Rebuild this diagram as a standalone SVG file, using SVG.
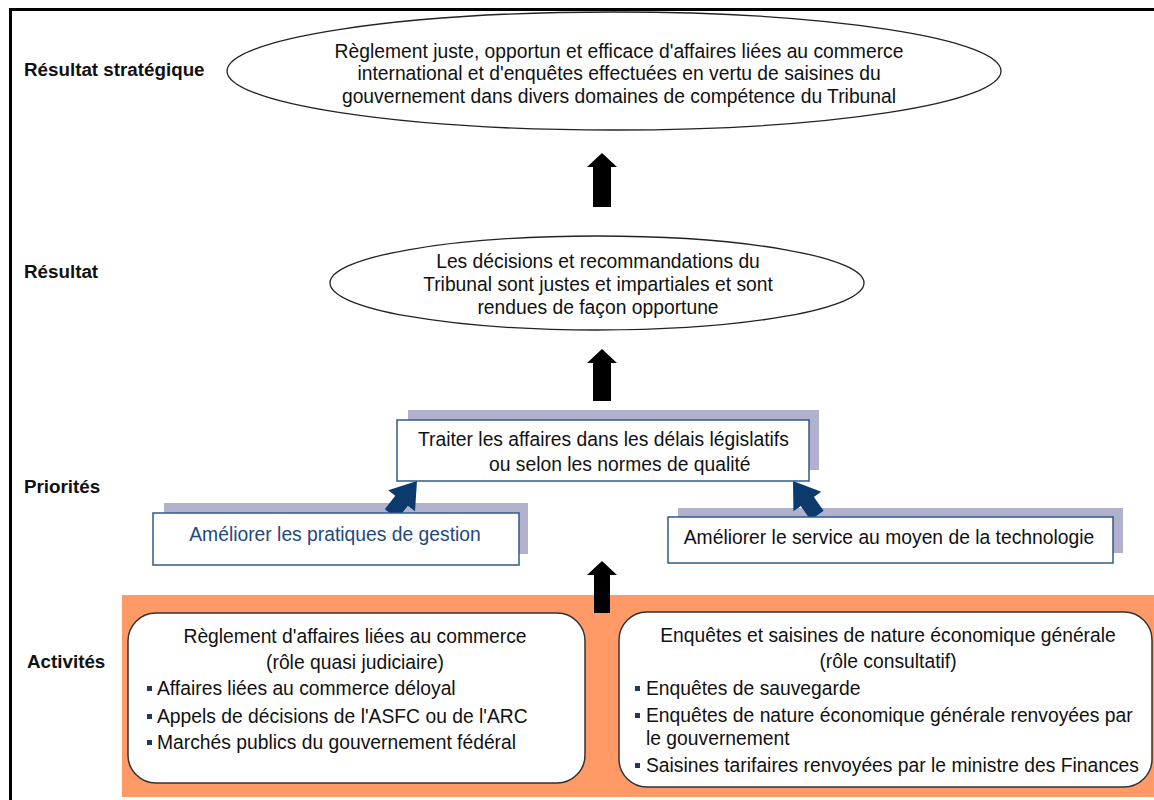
<svg xmlns="http://www.w3.org/2000/svg" width="1154" height="800" viewBox="0 0 1154 800">
<style>
text{font-family:"Liberation Sans",Arial,sans-serif;font-size:19.3px;fill:#111}
.lbl{font-weight:bold;font-size:18.8px}
.c{text-anchor:middle}
.ell{fill:#fff;stroke:#222;stroke-width:1.3}
.shadow{fill:#b1b1cc}
.pbox{fill:#fff;stroke:#2f5a8a;stroke-width:1.5}
.blk{fill:#000}
.nav{fill:#0d3a6c}
.act{fill:#fff;stroke:#333;stroke-width:1.5}
.bul{fill:#1f3864}
</style>
<rect x="0" y="0" width="1154" height="800" fill="#fff"/>
<rect x="10.5" y="9.5" width="1160" height="810" fill="none" stroke="#000" stroke-width="3"/>

<g id="labels">
<text class="lbl" x="24" y="76">Résultat stratégique</text>
<text class="lbl" x="24" y="278">Résultat</text>
<text class="lbl" x="24" y="493">Priorités</text>
<text class="lbl" x="27" y="668">Activités</text>
</g>

<g id="strategic-outcome">
<ellipse class="ell" cx="614" cy="71" rx="387" ry="59"/>
<text class="c" x="619" y="58">Règlement juste, opportun et efficace d'affaires liées au commerce</text>
<text class="c" x="619" y="80">international et d'enquêtes effectuées en vertu de saisines du</text>
<text class="c" x="619" y="103">gouvernement dans divers domaines de compétence du Tribunal</text>
</g>

<g id="outcome">
<ellipse class="ell" cx="597" cy="283" rx="267" ry="47"/>
<text class="c" x="598" y="268">Les décisions et recommandations du</text>
<text class="c" x="598" y="291">Tribunal sont justes et impartiales et sont</text>
<text class="c" x="598" y="314">rendues de façon opportune</text>
</g>

<g id="activities-panel">
<rect x="122" y="595" width="1040" height="202" fill="#ff9966"/>
</g>

<g id="connectors">
<polygon class="blk" points="602,153 617,167 611,167 611,207 593,207 593,167 587,167"/>
<polygon class="blk" points="602,349 617,363 611,363 611,401 593,401 593,363 587,363"/>
<polygon class="blk" points="602,561 617,575 610,575 610,613 594,613 594,575 587,575"/>
</g>

<g id="priority-main">
<rect class="shadow" x="408" y="410" width="411" height="60"/>
</g>
<g id="priority-left">
<rect class="shadow" x="164" y="503" width="364" height="51"/>
</g>
<g id="priority-right">
<rect class="shadow" x="678" y="508" width="445" height="45"/>
</g>

<g id="connectors-diag">
<polygon class="nav" transform="translate(417,481) rotate(38)" points="0,0 17,25 8,25 8,42 -8,42 -8,25 -17,25"/>
<polygon class="nav" transform="translate(793,481) rotate(-35)" points="0,0 17,25 8,25 8,42 -8,42 -8,25 -17,25"/>
</g>

<g id="priority-main-box">
<rect class="pbox" x="397" y="420" width="412" height="61"/>
<text x="418" y="446">Traiter les affaires dans les délais législatifs</text>
<text x="489" y="471">ou selon les normes de qualité</text>
</g>
<g id="priority-left-box">
<rect class="pbox" x="153" y="513" width="366" height="52"/>
<text class="c" x="335" y="541" style="fill:#1f497d">Améliorer les pratiques de gestion</text>
</g>
<g id="priority-right-box">
<rect class="pbox" x="668" y="517" width="445" height="46"/>
<text class="c" x="889" y="544">Améliorer le service au moyen de la technologie</text>
</g>

<g id="activity-trade">
<rect class="act" x="128" y="613" width="457" height="170" rx="28"/>
<text class="c" x="355" y="643">Règlement d'affaires liées au commerce</text>
<text class="c" x="355" y="669">(rôle quasi judiciaire)</text>
<rect class="bul" x="147" y="686" width="5" height="5"/>
<text x="157" y="695">Affaires liées au commerce déloyal</text>
<rect class="bul" x="147" y="714" width="5" height="5"/>
<text x="157" y="723">Appels de décisions de l'ASFC ou de l'ARC</text>
<rect class="bul" x="147" y="740" width="5" height="5"/>
<text x="157" y="749">Marchés publics du gouvernement fédéral</text>
</g>

<g id="activity-economic">
<rect class="act" x="619" y="612" width="533" height="175" rx="28"/>
<text class="c" x="888" y="642">Enquêtes et saisines de nature économique générale</text>
<text class="c" x="888" y="668">(rôle consultatif)</text>
<rect class="bul" x="635" y="686" width="5" height="5"/>
<text x="646" y="695">Enquêtes de sauvegarde</text>
<rect class="bul" x="635" y="713" width="5" height="5"/>
<text x="646" y="722">Enquêtes de nature économique générale renvoyées par</text>
<text x="646" y="745">le gouvernement</text>
<rect class="bul" x="635" y="763" width="5" height="5"/>
<text x="646" y="772">Saisines tarifaires renvoyées par le ministre des Finances</text>
</g>
</svg>
